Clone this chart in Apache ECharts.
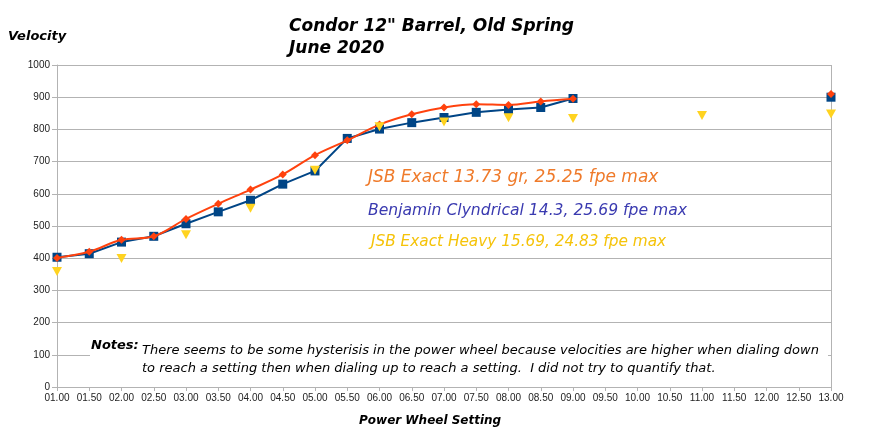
<!DOCTYPE html>
<html>
<head>
<meta charset="utf-8">
<script src="https://cdn.jsdelivr.net/npm/echarts@6/dist/echarts.min.js"></script>
<style>html,body{margin:0;padding:0;background:#fff}#c{width:878px;height:440px}</style>
</head>
<body>
<div id="c"></div>
<script>
const categories = ['01.00','01.50','02.00','02.50','03.00','03.50','04.00','04.50','05.00','05.50','06.00','06.50','07.00','07.50','08.00','08.50','09.00','09.50','10.00','10.50','11.00','11.50','12.00','12.50','13.00'];
const jsbExact = [401,420,457,468,522,569,613,660,720,766,815,847,868,878,876,887,895,null,null,null,null,null,null,null,910];
const benjamin = [403,414,450,468,507,544,580,630,671,772,801,821,837,853,862,868,896,null,null,null,null,null,null,null,900];
const jsbHeavy = [359,null,399,null,473,null,555,null,673,null,808,null,823,null,836,null,834,null,null,null,843,null,null,null,848];
const yTicks = [0,100,200,300,400,500,600,700,800,900,1000];
const seriesNames = ['JSB Exact 13.73 gr, 25.25 fpe max','Benjamin Clyndrical 14.3, 25.69 fpe max','JSB Exact Heavy 15.69, 24.83 fpe max'];
const titleLines = ['Condor 12" Barrel, Old Spring','June 2020'];
const notesLines = ['There seems to be some hysterisis in the power wheel because velocities are higher when dialing down','to reach a setting then when dialing up to reach a setting.  I did not try to quantify that.'];

const chart = echarts.init(document.getElementById('c'), null, {renderer:'canvas'});
const option = {
  animation:false,
  backgroundColor:'#fff',
  grid:{left:57,right:47,top:65,bottom:53,containLabel:false},
  xAxis:{
    type:'category', data:categories, boundaryGap:false,
    axisLine:{lineStyle:{color:'#b3b3b3',width:1}},
    axisTick:{show:true,length:4,interval:0,lineStyle:{color:'#b3b3b3'}},
    axisLabel:{interval:0,fontSize:10,fontFamily:'Liberation Sans',color:'#222',margin:6},
    splitLine:{show:true,interval:function(i){return i===categories.length-1;},lineStyle:{color:'#b3b3b3'}}
  },
  yAxis:{
    type:'value', min:yTicks[0], max:yTicks[yTicks.length-1], interval:100,
    axisLine:{show:true,lineStyle:{color:'#b3b3b3'}},
    axisTick:{show:true,length:5,lineStyle:{color:'#b3b3b3'}},
    axisLabel:{fontSize:10,fontFamily:'Liberation Sans',color:'#222',margin:7,formatter:function(v){return String(v);}},
    splitLine:{lineStyle:{color:'#b3b3b3',width:1}}
  },
  series:[
    {name:seriesNames[1],type:'line',data:benjamin,connectNulls:false,symbol:'rect',symbolSize:9,
     itemStyle:{color:'#004586'},lineStyle:{color:'#004586',width:2},z:3},
    {name:seriesNames[0],type:'line',data:jsbExact,connectNulls:false,smooth:0.35,symbol:'diamond',symbolSize:8,
     itemStyle:{color:'#ff420e'},lineStyle:{color:'#ff420e',width:2},z:4},
    {name:seriesNames[2],type:'line',data:jsbHeavy,symbol:'triangle',symbolRotate:180,symbolSize:[10,9],
     itemStyle:{color:'#ffd320'},lineStyle:{width:0,opacity:0},z:5}
  ],
  graphic:[
    {type:'text',left:289,top:18,z:100,style:{text:titleLines[0],font:'italic bold 17px "DejaVu Sans"',fill:'#000'}},
    {type:'text',left:289,top:40,z:100,style:{text:titleLines[1],font:'italic bold 17px "DejaVu Sans"',fill:'#000'}},
    {type:'text',left:8,top:30,z:100,style:{text:'Velocity',font:'italic bold 13px "DejaVu Sans"',fill:'#000'}},
    {type:'text',left:359,top:415,z:100,style:{text:'Power Wheel Setting',font:'italic bold 12px "DejaVu Sans"',fill:'#000'}},
    {type:'text',left:368,top:169,z:100,style:{text:seriesNames[0],font:'italic 17px "DejaVu Sans"',fill:'#ef7a2a'}},
    {type:'text',left:368,top:203,z:100,style:{text:seriesNames[1],font:'italic 15.6px "DejaVu Sans"',fill:'#3a3ab0'}},
    {type:'text',left:371,top:235,z:100,style:{text:seriesNames[2],font:'italic 15.3px "DejaVu Sans"',fill:'#f5c30a'}},
    {type:'rect',shape:{x:90,y:336,width:738,height:46},z:90,style:{fill:'#fff'}},
    {type:'text',left:91,top:339,z:100,style:{text:'Notes:',font:'italic bold 13px "DejaVu Sans"',fill:'#000'}},
    {type:'text',left:142,top:344,z:100,style:{text:notesLines[0],font:'italic 13px "DejaVu Sans"',fill:'#000'}},
    {type:'text',left:142,top:362,z:100,style:{text:notesLines[1],font:'italic 13px "DejaVu Sans"',fill:'#000'}}
  ]
};
chart.setOption(option);
</script>
</body>
</html>
